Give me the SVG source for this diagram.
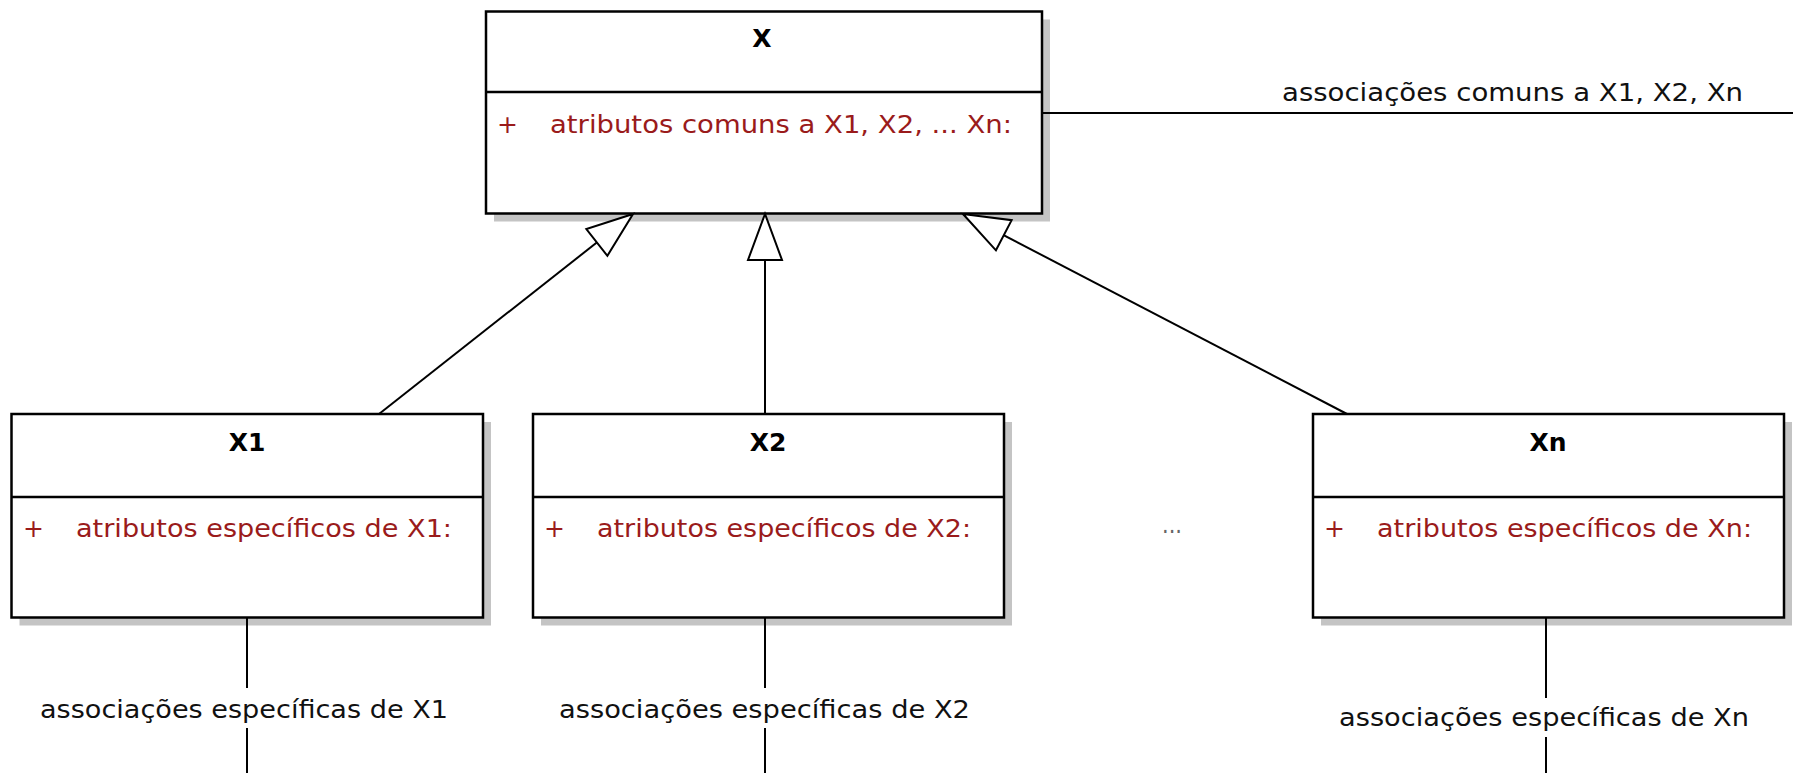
<svg xmlns="http://www.w3.org/2000/svg" width="1793" height="773" viewBox="0 0 1793 773">
<style>
text{font-family:"DejaVu Sans","Liberation Sans",sans-serif;font-size:25px;}
.title{font-weight:bold;fill:#000;text-anchor:middle;}
.attr{fill:#9a1b1b;}
.lbl{fill:#111;}
.box{fill:#fff;stroke:#000;stroke-width:2.5;}
.shadow{fill:#c4c4c4;}
.div{stroke:#000;stroke-width:2.5;}
.conn line{stroke:#000;stroke-width:2;}
.gen{marker-end:url(#tri);}
</style>
<defs>
<marker id="tri" markerUnits="userSpaceOnUse" markerWidth="50" markerHeight="38" viewBox="-2 -2 50 38" refX="46" refY="17" orient="auto" overflow="visible">
<path d="M46,17 L0,0 L0,34 Z" fill="#fff" stroke="#000" stroke-width="2"/>
</marker>
</defs>
<g id="node-X">
<rect class="shadow" x="494" y="19.5" width="556" height="202"/>
<rect class="box" x="486" y="11.5" width="556" height="202"/>
<line class="div" x1="486" y1="92" x2="1042" y2="92"/>
<text class="title" x="762" y="47.3">X</text>
<text class="attr" x="497" y="133.3">+</text>
<text class="attr" x="550" y="133.3" textLength="462" lengthAdjust="spacingAndGlyphs">atributos comuns a X1, X2, ... Xn:</text>
</g>
<g id="node-X1">
<rect class="shadow" x="19.5" y="422" width="471.5" height="203.5"/>
<rect class="box" x="11.5" y="414" width="471.5" height="203.5"/>
<line class="div" x1="11.5" y1="497" x2="483" y2="497"/>
<text class="title" x="247" y="450.7">X1</text>
<text class="attr" x="23" y="536.5">+</text>
<text class="attr" x="76" y="536.5" textLength="376" lengthAdjust="spacingAndGlyphs">atributos específicos de X1:</text>
</g>
<g id="node-X2">
<rect class="shadow" x="541" y="422" width="471" height="203.5"/>
<rect class="box" x="533" y="414" width="471" height="203.5"/>
<line class="div" x1="533" y1="497" x2="1004" y2="497"/>
<text class="title" x="768" y="450.7">X2</text>
<text class="attr" x="544" y="536.5">+</text>
<text class="attr" x="597" y="536.5" textLength="374" lengthAdjust="spacingAndGlyphs">atributos específicos de X2:</text>
</g>
<g id="node-Xn">
<rect class="shadow" x="1321" y="422" width="471" height="203.5"/>
<rect class="box" x="1313" y="414" width="471" height="203.5"/>
<line class="div" x1="1313" y1="497" x2="1784" y2="497"/>
<text class="title" x="1548" y="450.7">Xn</text>
<text class="attr" x="1324" y="536.5">+</text>
<text class="attr" x="1377" y="536.5" textLength="375" lengthAdjust="spacingAndGlyphs">atributos específicos de Xn:</text>
</g>
<text x="1162" y="533" fill="#666" textLength="20" lengthAdjust="spacingAndGlyphs">...</text>
<g id="connectors" class="conn">
<line class="gen" x1="379" y1="414" x2="633" y2="214"/>
<line class="gen" x1="765" y1="414" x2="765" y2="214"/>
<line class="gen" x1="1347" y1="414" x2="963" y2="214"/>
<line x1="1042" y1="113" x2="1793" y2="113"/>
<line x1="247" y1="617.5" x2="247" y2="688"/>
<line x1="247" y1="728" x2="247" y2="773"/>
<line x1="765" y1="617.5" x2="765" y2="688"/>
<line x1="765" y1="728" x2="765" y2="773"/>
<line x1="1546" y1="617.5" x2="1546" y2="698"/>
<line x1="1546" y1="737" x2="1546" y2="773"/>
</g>
<g id="labels">
<text class="lbl" x="1282" y="100.5" textLength="461" lengthAdjust="spacingAndGlyphs">associações comuns a X1, X2, Xn</text>
<text class="lbl" x="40" y="718" textLength="408" lengthAdjust="spacingAndGlyphs">associações específicas de X1</text>
<text class="lbl" x="559" y="718" textLength="411" lengthAdjust="spacingAndGlyphs">associações específicas de X2</text>
<text class="lbl" x="1339" y="726" textLength="410" lengthAdjust="spacingAndGlyphs">associações específicas de Xn</text>
</g>
</svg>
